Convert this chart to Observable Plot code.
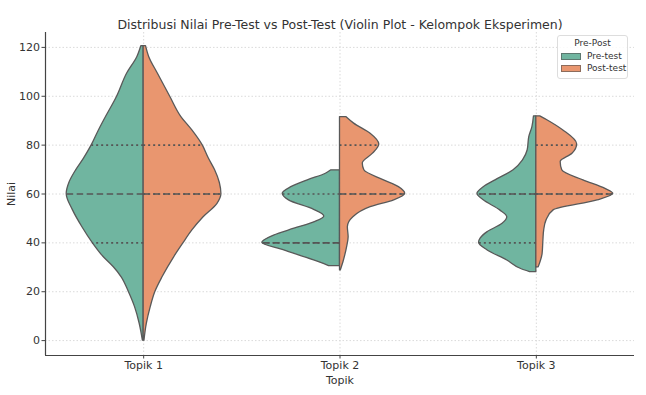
<!DOCTYPE html>
<html><head><meta charset="utf-8">
<script src="https://cdn.jsdelivr.net/npm/d3@7"></script>
<script src="https://cdn.jsdelivr.net/npm/@observablehq/plot@0.6"></script>
<style>
body{margin:0;background:#fff;font-family:"DejaVu Sans",sans-serif;}
#wrap{position:relative;width:646px;height:395px;}
#legend{position:absolute;left:557px;top:35px;width:71px;height:44px;border:1px solid #ddd;border-radius:3px;background:rgba(255,255,255,0.85);font-size:9px;color:#333;box-sizing:border-box;}
#legend .t{position:absolute;left:0;right:0;top:2px;text-align:center;}
#legend .r{position:absolute;left:3px;white-space:nowrap;}
#legend .s{display:inline-block;width:20px;height:7px;vertical-align:-1px;margin-right:6px;border:0.5px solid rgba(80,80,80,0.6);box-sizing:border-box;}
</style></head><body><div id="wrap"></div>
<script>
const title = "Distribusi Nilai Pre-Test vs Post-Test (Violin Plot - Kelompok Eksperimen)";
const topics = ["Topik 1", "Topik 2", "Topik 3"];
const groups = ["Pre-test", "Post-test"];
const colors = ["#70b5a0", "#e9966f"];
const yTicks = [0, 20, 40, 60, 80, 100, 120];

// density profiles: [nilai, relative half-width (1 = full half-violin)]
const t1Pre = [[0,0.01],[6.8,0.05],[13.7,0.11],[20,0.19],[25.9,0.28],[30,0.38],[34.2,0.51],[40,0.65],[46.4,0.78],[53.3,0.90],[60,0.98],[65,0.94],[69.7,0.86],[74.5,0.76],[80,0.66],[86,0.57],[91.5,0.48],[99.7,0.34],[109.3,0.21],[116.1,0.08],[120.5,0.03]];
const t1Post = [[0,0.01],[6.8,0.04],[13.7,0.09],[20,0.15],[25.9,0.24],[34.2,0.39],[40,0.51],[45.1,0.62],[50.4,0.76],[56,0.94],[60,0.99],[64.5,0.97],[69.7,0.91],[74.5,0.83],[80,0.75],[86,0.62],[91.5,0.48],[99.7,0.34],[109.3,0.18],[116.1,0.07],[120.5,0.03]];
const t2Pre = [[30.5,0.14],[32.8,0.33],[36.9,0.71],[40,0.99],[43,0.84],[45.8,0.58],[48.5,0.32],[50.8,0.20],[53.5,0.33],[57.4,0.65],[60.1,0.73],[62.8,0.62],[65.6,0.41],[68.3,0.18],[69.7,0.11]];
const t2Post = [[28.7,0.01],[32.8,0.05],[38.2,0.09],[42.3,0.11],[46.4,0.10],[50.5,0.17],[54.6,0.39],[57.4,0.69],[60.1,0.83],[62.8,0.75],[65.6,0.56],[69.7,0.31],[72.5,0.29],[76.5,0.42],[80.3,0.50],[84.7,0.39],[88.8,0.18],[91.5,0.08]];
const t3Pre = [[28,0.08],[29.4,0.20],[32.8,0.37],[36.9,0.62],[40,0.73],[41.7,0.71],[44.4,0.62],[47.8,0.43],[50.5,0.37],[53.3,0.46],[57.4,0.67],[60.1,0.75],[62.8,0.67],[65.6,0.52],[69.7,0.29],[73.8,0.17],[77.9,0.11],[83.3,0.09],[87.4,0.05],[91.8,0.03]];
const t3Post = [[30,0.03],[35.5,0.08],[41,0.09],[45.1,0.10],[49.2,0.13],[53.3,0.22],[57.4,0.78],[60.1,0.98],[62.1,0.88],[65.6,0.60],[69.7,0.33],[73.1,0.31],[76.5,0.46],[80.3,0.52],[86.1,0.34],[90.2,0.14],[91.8,0.05]];
const profilesPre = [t1Pre, t2Pre, t3Pre];
const profilesPost = [t1Post, t2Post, t3Post];

// quartiles [Q1, median, Q3]
const quartPre = [[40,60,80],[40,40,60],[40,60,60]];
const quartPost = [[60,60,80],[60,60,80],[60,60,80]];

const HALF = 0.4;
const rows = [];
const qrows = [];
function widthAt(prof, v) {
  for (let k = 0; k < prof.length - 1; k++) {
    const [a, wa] = prof[k], [b, wb] = prof[k+1];
    if (v >= a && v <= b) return wa + (wb - wa) * (v - a) / (b - a);
  }
  return 0;
}
topics.forEach((t, i) => {
  [profilesPre, profilesPost].forEach((P, g) => {
    const side = g === 0 ? -1 : 1;
    P[i].forEach(([v, w]) => rows.push({key: i + "-" + g, group: groups[g], y: v, x1: i, x2: i + side * w * HALF}));
    const q = (g === 0 ? quartPre : quartPost)[i];
    q.forEach((v, j) => qrows.push({y: v, x1: i, x2: i + side * widthAt(P[i], v) * HALF, kind: j === 1 ? "median" : "quart"}));
  });
});

const plot = Plot.plot({
  width: 646, height: 395,
  marginLeft: 45, marginRight: 12, marginTop: 32, marginBottom: 40,
  style: {fontFamily: "DejaVu Sans, sans-serif", fontSize: "11px", color: "#333", background: "#fff"},
  x: {domain: [-0.5, 2.5]},
  y: {domain: [-6.1, 126.1]},
  color: {domain: groups, range: colors},
  marks: [
    Plot.gridY(yTicks, {stroke: "#dadada", strokeOpacity: 1, strokeDasharray: "1.5,2"}),
    Plot.gridX([0, 1, 2], {stroke: "#dadada", strokeOpacity: 1, strokeDasharray: "1.5,2"}),
    Plot.areaX(rows, {y: "y", x1: "x1", x2: "x2", z: "key", fill: "group", stroke: "#595959", strokeWidth: 1.3, curve: "monotone-y"}),
    Plot.ruleY(qrows.filter(d => d.kind === "quart"), {y: "y", x1: "x1", x2: "x2", stroke: "#555", strokeWidth: 1.7, strokeDasharray: "2,3"}),
    Plot.ruleY(qrows.filter(d => d.kind === "median"), {y: "y", x1: "x1", x2: "x2", stroke: "#555", strokeWidth: 1.7, strokeDasharray: "6.5,3.5"}),
    Plot.axisY(yTicks, {tickSize: 3.5, tickPadding: 2, fontSize: 11, stroke: "#444", label: "Nilai", labelAnchor: "center", labelArrow: "none", labelOffset: 38}),
    Plot.axisX([0, 1, 2], {tickSize: 3.5, tickPadding: 2, fontSize: 11, stroke: "#444", tickFormat: i => topics[i], label: "Topik", labelAnchor: "center", labelArrow: "none", labelOffset: 28}),
    Plot.ruleX([-0.5], {stroke: "#444", strokeWidth: 1.2}),
    Plot.ruleY([-6.1], {stroke: "#444", strokeWidth: 1.2}),
    Plot.text([title], {frameAnchor: "top", dy: -12, fontSize: 12.5, fill: "#333"})
  ]
});
const wrap = document.getElementById("wrap");
wrap.appendChild(plot);
const lg = document.createElement("div");
lg.id = "legend";
lg.innerHTML = `<div class="t">Pre-Post</div>` + groups.map((g, k) =>
  `<div class="r" style="top:${15 + k * 12}px"><span class="s" style="background:${colors[k]}"></span>${g}</div>`).join("");
wrap.appendChild(lg);
</script></body></html>
